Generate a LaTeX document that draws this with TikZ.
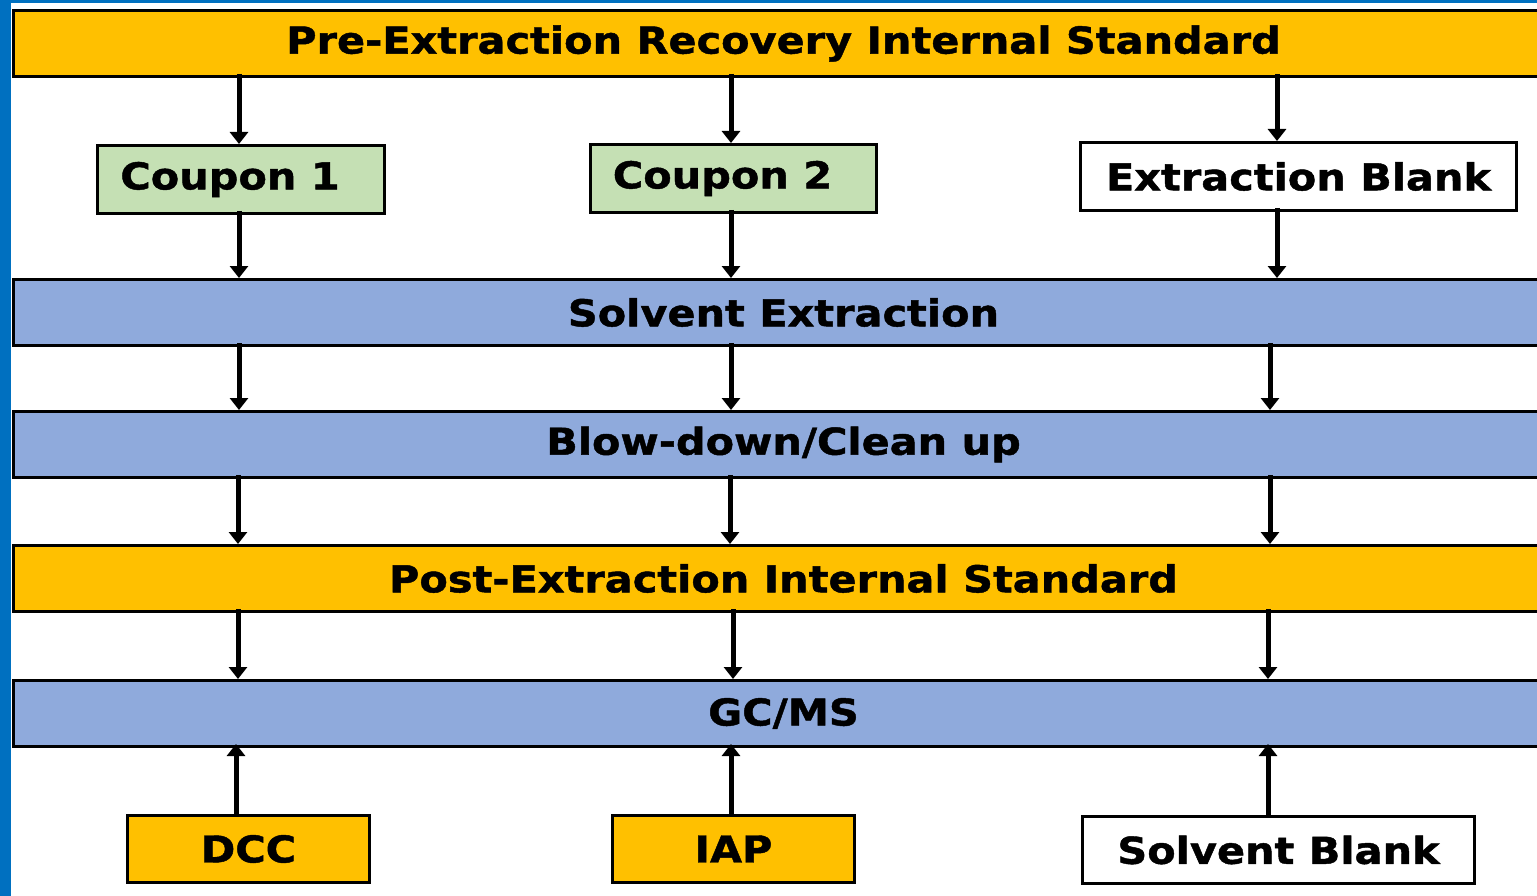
\documentclass[tikz,border=0pt]{standalone}
\usepackage{fontspec}
\setmainfont{DejaVu Sans}[BoldFeatures={FakeStretch=1.12,FakeBold=1.2}]
\usetikzlibrary{arrows.meta}
\definecolor{gold}{HTML}{FFC000}
\definecolor{lgreen}{HTML}{C5E0B4}
\definecolor{lblue}{HTML}{8FAADC}
\definecolor{frameblue}{HTML}{0070C0}
\tikzset{
  box/.style={draw=black, line width=3pt, inner sep=0pt, font=\fontsize{37}{40}\selectfont\bfseries, anchor=north west},
  bar/.style={box, minimum width=1540pt, minimum height=66pt},
  smallbox/.style={box, minimum height=68pt},
  arr/.style={line width=5pt, -{Triangle[length=12pt,width=18pt]}}
}
\begin{document}
\begin{tikzpicture}[x=1pt,y=-1pt]
\useasboundingbox (0,0) rectangle (1537,896);
\fill[white] (0,0) rectangle (1537,896);
% bars
\node[bar, fill=gold] (pre) at (12,9) {Pre-Extraction Recovery Internal Standard};
\node[bar, fill=lblue] (solv) at (12,278) {Solvent Extraction};
\node[bar, fill=lblue] (blow) at (12,410) {Blow-down/Clean up};
\node[bar, fill=gold] (post) at (12,544) {Post-Extraction Internal Standard};
\node[bar, fill=lblue] (gcms) at (12,679) {GC/MS};
% boxes
\node[smallbox, fill=lgreen, minimum width=287pt] (cp1) at (96,144) {\hspace*{-22pt}Coupon 1};
\node[smallbox, fill=lgreen, minimum width=286pt] (cp2) at (589,143) {\hspace*{-22pt}Coupon 2};
\node[smallbox, fill=white, minimum width=436pt] (eb) at (1079,141) {Extraction Blank};
\node[smallbox, fill=gold, minimum width=242pt, minimum height=67pt] (dcc) at (126,814) {DCC};
\node[smallbox, fill=gold, minimum width=242pt, minimum height=67pt] (iap) at (611,814) {IAP};
\node[smallbox, fill=white, minimum width=392pt, minimum height=67pt] (sb) at (1081,815) {Solvent Blank};
% column coordinates
\coordinate (c1) at (239,0);
\coordinate (c2) at (731,0);
\coordinate (c3) at (1277,0);
\coordinate (c3b) at (1270,0);
% arrows
\draw[arr] ([yshift=4pt]pre.south -| c1) -- (cp1.north -| c1);
\draw[arr] ([yshift=4pt]pre.south -| c2) -- (cp2.north -| c2);
\draw[arr] ([yshift=4pt]pre.south -| c3) -- (eb.north -| c3);
\draw[arr] ([yshift=4pt]cp1.south -| c1) -- (solv.north -| c1);
\draw[arr] ([yshift=4pt]cp2.south -| c2) -- (solv.north -| c2);
\draw[arr] ([yshift=4pt]eb.south -| c3) -- (solv.north -| c3);
\draw[arr] ([yshift=4pt]solv.south -| c1) -- (blow.north -| c1);
\draw[arr] ([yshift=4pt]solv.south -| c2) -- (blow.north -| c2);
\draw[arr] ([yshift=4pt]solv.south -| c3b) -- (blow.north -| c3b);
\draw[arr] ([yshift=4pt,xshift=-1pt]blow.south -| c1) -- ([xshift=-1pt]post.north -| c1);
\draw[arr] ([yshift=4pt,xshift=-1pt]blow.south -| c2) -- ([xshift=-1pt]post.north -| c2);
\draw[arr] ([yshift=4pt]blow.south -| c3b) -- (post.north -| c3b);
\draw[arr] ([yshift=4pt,xshift=-1pt]post.south -| c1) -- ([xshift=-1pt]gcms.north -| c1);
\draw[arr] ([yshift=4pt,xshift=2pt]post.south -| c2) -- ([xshift=2pt]gcms.north -| c2);
\draw[arr] ([yshift=4pt,xshift=-2pt]post.south -| c3b) -- ([xshift=-2pt]gcms.north -| c3b);
\draw[arr] ([yshift=-2pt,xshift=-3pt]dcc.north -| c1) -- ([yshift=4pt,xshift=-3pt]gcms.south -| c1);
\draw[arr] ([yshift=-2pt]iap.north -| c2) -- ([yshift=4pt]gcms.south -| c2);
\draw[arr] ([yshift=-2pt,xshift=-2pt]sb.north -| c3b) -- ([yshift=4pt,xshift=-2pt]gcms.south -| c3b);
% frame
\fill[frameblue] (0,0) rectangle (11,896);
\fill[frameblue] (0,0) rectangle (1537,3);
\end{tikzpicture}
\end{document}
